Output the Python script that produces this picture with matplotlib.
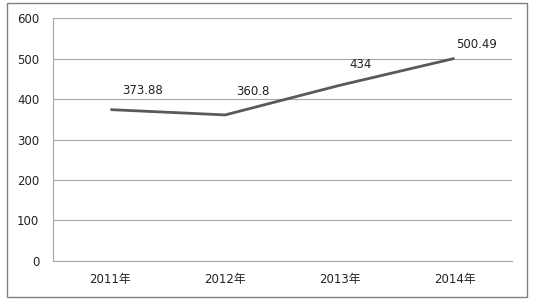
import matplotlib.pyplot as plt
from matplotlib.patches import Rectangle

plt.rcParams['font.family'] = ['DejaVu Sans', 'Noto Sans CJK SC']

# data
years = ['2011年', '2012年', '2013年', '2014年']
values = [373.88, 360.8, 434, 500.49]
value_labels = ['373.88', '360.8', '434', '500.49']
# label offsets (points) relative to each data point
label_offsets = [(23, 14), (20, 17), (15, 15), (16, 10)]

fig = plt.figure(figsize=(5.36, 3.07), dpi=100)
ax = fig.add_axes([0.099, 0.150, 0.856, 0.791])

x = range(len(years))
ax.plot(x, values, color='#595959', linewidth=2.0, solid_capstyle='butt', zorder=3)

for xi, v, lab, off in zip(x, values, value_labels, label_offsets):
    ax.annotate(lab, (xi, v), xytext=off, textcoords='offset points',
                ha='center', va='center', fontsize=8.5, color='#222222')

ax.set_xlim(-0.5, len(years) - 0.5)
ax.set_ylim(0, 600)
ax.set_yticks(range(0, 601, 100))
ax.set_xticks(list(x))
ax.set_xticklabels(years)

ax.yaxis.grid(True, color='#a6a6a6', linewidth=0.8)
ax.set_axisbelow(True)
ax.tick_params(axis='y', length=0, pad=10, labelsize=8.5, colors='#222222')
ax.tick_params(axis='x', length=0, pad=9, labelsize=8.5, colors='#222222')

for side in ['top', 'right']:
    ax.spines[side].set_visible(False)
ax.spines['left'].set_color('#a6a6a6')
ax.spines['bottom'].set_color('#a6a6a6')

# outer chart border
fig.patches.append(Rectangle((7 / 536, 1 - 297 / 307), 520 / 536, 294 / 307,
                             transform=fig.transFigure, fill=False,
                             edgecolor='#808080', linewidth=1.0))

plt.savefig('out.png', dpi=100)
